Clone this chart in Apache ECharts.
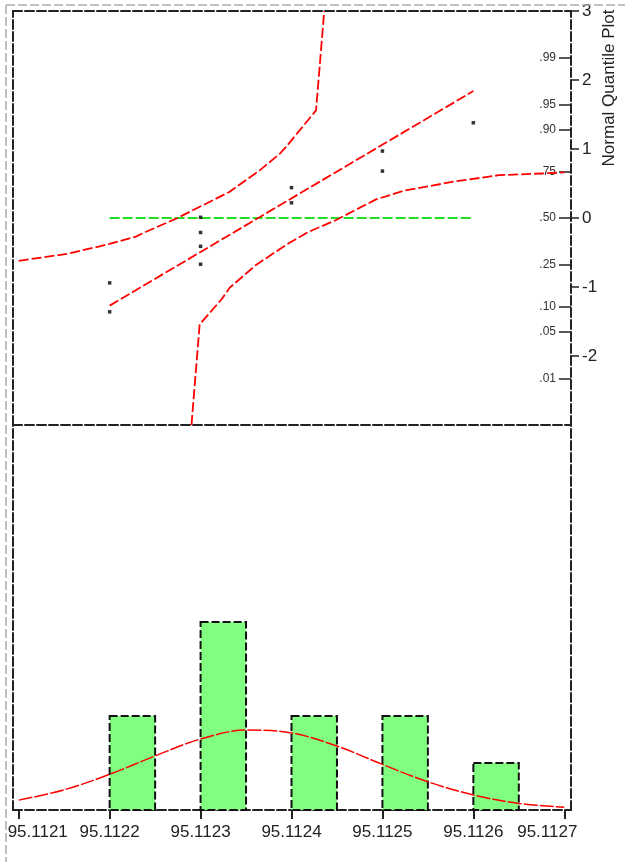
<!DOCTYPE html>
<html>
<head>
<meta charset="utf-8">
<script src="https://cdn.jsdelivr.net/npm/echarts@6/dist/echarts.min.js"></script>
<style>
html,body{margin:0;padding:0;background:#fff;}
#chart{width:625px;height:862px;}
</style>
</head>
<body>
<div id="chart"></div>
<script>
// ---- data ----
const xTickValues = [95.1121, 95.1122, 95.1123, 95.1124, 95.1125, 95.1126, 95.1127];
const binStart = [95.1122, 95.1123, 95.1124, 95.1125, 95.1126];
const binWidth = 0.00005;
const binCounts = [2, 4, 2, 2, 1];

const curveX = [95.1121, 95.11215, 95.1122, 95.11225, 95.1123, 95.11235, 95.1124, 95.11245, 95.1125, 95.11255, 95.1126, 95.11265, 95.1127];
const curveY = [0.21, 0.43, 0.76, 1.15, 1.51, 1.70, 1.64, 1.36, 0.97, 0.60, 0.32, 0.14, 0.06];

const pointX = [95.1122, 95.1122, 95.1123, 95.1123, 95.1123, 95.1123, 95.1124, 95.1124, 95.1125, 95.1125, 95.1126];
const pointZ = [-1.36, -0.94, -0.67, -0.41, -0.21, 0.01, 0.22, 0.44, 0.68, 0.97, 1.38];

const fitLineX = [95.1122, 95.1126];
const fitLineZ = [-1.27, 1.84];
const refLineX = [95.1122, 95.1126];
const refLineZ = [0, 0];

const upperBandX = [95.1121, 95.112127, 95.112153, 95.112189, 95.1122, 95.112229, 95.11224, 95.112273, 95.112332, 95.112365, 95.112387, 95.112394, 95.112427, 95.112436];
const upperBandZ = [-0.62, -0.57, -0.52, -0.41, -0.375, -0.27, -0.20, -0.01, 0.38, 0.69, 0.93, 1.03, 1.56, 3.0];
const lowerBandX = [95.11229, 95.112299, 95.112323, 95.112332, 95.112361, 95.112394, 95.112419, 95.112449, 95.112493, 95.112525, 95.11258, 95.112628, 95.1127];
const lowerBandZ = [-3.0, -1.54, -1.18, -1.01, -0.68, -0.39, -0.20, -0.03, 0.27, 0.40, 0.53, 0.62, 0.66];

const zTicks = [-2, -1, 0, 1, 2, 3];
const probZ = [-2.326, -1.645, -1.282, -0.674, 0, 0.674, 1.282, 1.645, 2.326];
const probLabels = ['.01', '.05', '.10', '.25', '.50', '.75', '.90', '.95', '.99'];

const axisTitle = 'Normal Quantile Plot';

// ---- styling ----
const FONT = "'Liberation Sans', Arial, sans-serif";
const xMin = 95.1120937, xMax = 95.1127074;
const frameLine = {show: true, onZero: false, lineStyle: {color: '#222', width: 2, type: [9, 3]}};
const redDash = {color: '#FF0000', width: 1.8, type: [10, 3]};

const chart = echarts.init(document.getElementById('chart'), null, {renderer: 'canvas'});

const hiddenAxisBits = {axisTick: {show: false}, axisLabel: {show: false}, splitLine: {show: false}};

const option = {
  animation: false,
  backgroundColor: '#fff',
  grid: [
    {left: 13, top: 11, width: 558, height: 414, outerBoundsMode: 'none', containLabel: false},
    {left: 13, top: 425, width: 558, height: 385, outerBoundsMode: 'none', containLabel: false}
  ],
  xAxis: [
    Object.assign({type: 'value', gridIndex: 0, position: 'bottom', min: xMin, max: xMax, axisLine: frameLine}, hiddenAxisBits),
    Object.assign({type: 'value', gridIndex: 0, position: 'top', min: xMin, max: xMax, axisLine: frameLine}, hiddenAxisBits),
    {
      type: 'value', gridIndex: 1, position: 'bottom', min: xMin, max: xMax,
      axisLine: frameLine,
      splitLine: {show: false},
      axisTick: {show: true, length: 9, customValues: xTickValues, lineStyle: {color: '#222', width: 2}},
      axisLabel: {
        show: true, customValues: xTickValues, margin: 14,
        fontSize: 17, fontFamily: FONT, color: '#222',
        showMinLabel: true, showMaxLabel: true, hideOverlap: false,
        formatter: function (v) {
          const s = Number(v).toFixed(4);
          if (s === xTickValues[0].toFixed(4)) return '{first|' + s + '}';
          if (s === xTickValues[xTickValues.length - 1].toFixed(4)) return '{last|' + s + '}';
          return s;
        },
        rich: {
          first: {fontSize: 17, fontFamily: FONT, color: '#222', padding: [0, 0, 0, 38]},
          last: {fontSize: 17, fontFamily: FONT, color: '#222', padding: [0, 34, 0, 0]}
        }
      }
    }
  ],
  yAxis: [
    {
      type: 'value', gridIndex: 0, position: 'right', min: -3, max: 3, interval: 1,
      axisLine: frameLine,
      splitLine: {show: false},
      axisTick: {show: true, length: 8, customValues: zTicks, lineStyle: {color: '#222', width: 1.5}},
      axisLabel: {
        show: true, customValues: zTicks, margin: 11, fontSize: 17, fontFamily: FONT, color: '#222',
        showMinLabel: true, showMaxLabel: true, hideOverlap: false,
        formatter: v => String(Math.round(v))
      }
    },
    Object.assign({type: 'value', gridIndex: 0, position: 'left', min: -3, max: 3, axisLine: frameLine}, hiddenAxisBits),
    {
      type: 'value', gridIndex: 0, position: 'right', min: -3, max: 3,
      axisLine: {show: false, onZero: false},
      splitLine: {show: false},
      axisTick: {show: true, inside: true, length: 12, customValues: probZ, lineStyle: {color: '#222', width: 1.5}},
      axisLabel: {
        show: true, inside: true, customValues: probZ, margin: 15, fontSize: 12, fontFamily: FONT, color: '#333',
        showMinLabel: true, showMaxLabel: true, hideOverlap: false,
        formatter: function (v) {
          let best = 0;
          for (let i = 0; i < probZ.length; i++) {
            if (Math.abs(probZ[i] - v) < Math.abs(probZ[best] - v)) best = i;
          }
          return probLabels[best];
        }
      }
    },
    Object.assign({type: 'value', gridIndex: 1, position: 'left', min: 0, max: 8.19, axisLine: frameLine}, hiddenAxisBits),
    Object.assign({type: 'value', gridIndex: 1, position: 'right', min: 0, max: 8.19, axisLine: frameLine}, hiddenAxisBits)
  ],
  series: [
    {
      type: 'line', name: 'upper band', xAxisIndex: 0, yAxisIndex: 0,
      data: upperBandX.map((x, i) => [x, upperBandZ[i]]),
      showSymbol: false, symbol: 'none', lineStyle: redDash, clip: true, z: 3
    },
    {
      type: 'line', name: 'lower band', xAxisIndex: 0, yAxisIndex: 0,
      data: lowerBandX.map((x, i) => [x, lowerBandZ[i]]),
      showSymbol: false, symbol: 'none', lineStyle: redDash, clip: true, z: 3
    },
    {
      type: 'line', name: 'fit line', xAxisIndex: 0, yAxisIndex: 0,
      data: fitLineX.map((x, i) => [x, fitLineZ[i]]),
      showSymbol: false, symbol: 'none', lineStyle: redDash, z: 3
    },
    {
      type: 'line', name: 'reference', xAxisIndex: 0, yAxisIndex: 0,
      data: refLineX.map((x, i) => [x, refLineZ[i]]),
      showSymbol: false, symbol: 'none',
      lineStyle: {color: '#22DD22', width: 2, type: [10, 3]}, z: 2
    },
    {
      type: 'scatter', name: 'points', xAxisIndex: 0, yAxisIndex: 0,
      data: pointX.map((x, i) => [x, pointZ[i]]),
      symbol: 'rect', symbolSize: 3.5,
      itemStyle: {color: '#000'}, z: 5
    },
    {
      type: 'custom', name: 'histogram', xAxisIndex: 2, yAxisIndex: 3,
      data: binStart.map((s, i) => [s, s + binWidth, binCounts[i]]),
      encode: {x: [0, 1], y: 2},
      renderItem: function (params, api) {
        const p0 = api.coord([api.value(0), api.value(2)]);
        const p1 = api.coord([api.value(1), 0]);
        return {
          type: 'rect',
          shape: {x: p0[0], y: p0[1], width: p1[0] - p0[0], height: p1[1] - p0[1]},
          style: {fill: '#80FF80', stroke: '#111', lineWidth: 2, lineDash: [8, 3]}
        };
      },
      z: 2
    },
    {
      type: 'line', name: 'normal', xAxisIndex: 2, yAxisIndex: 3,
      data: curveX.map((x, i) => [x, curveY[i]]),
      showSymbol: false, symbol: 'none', smooth: 0.35,
      lineStyle: {color: '#FF0000', width: 1.5, type: [14, 2]}, z: 4
    }
  ],
  graphic: [
    {type: 'line', shape: {x1: 6, y1: 5, x2: 6, y2: 862}, style: {stroke: '#aaa', lineWidth: 1.5, lineDash: [9, 3]}, z: 1},
    {type: 'line', shape: {x1: 6, y1: 5, x2: 625, y2: 5}, style: {stroke: '#aaa', lineWidth: 1.5, lineDash: [9, 3]}, z: 1},
    {
      type: 'text', x: 609, y: 88, rotation: Math.PI / 2,
      style: {text: axisTitle, fontSize: 17, fontFamily: FONT, fill: '#222', align: 'center', verticalAlign: 'middle'}
    }
  ]
};

chart.setOption(option);
</script>
</body>
</html>
